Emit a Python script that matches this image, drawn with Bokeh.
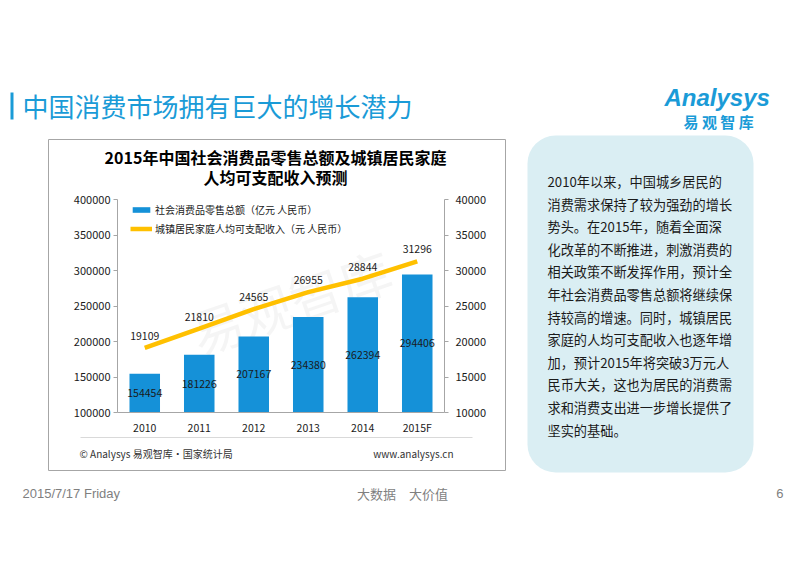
from bokeh.plotting import figure
from bokeh.layouts import column
from bokeh.models import (Range1d, LinearAxis, FactorRange, Label, BoxAnnotation,
                          Legend, LegendItem, FixedTicker, ColumnDataSource,
                          NumeralTickFormatter)
from bokeh.core.properties import value
from bokeh.embed import file_html
from bokeh.resources import INLINE

# ---------------- data ----------------
years = ["2010", "2011", "2012", "2013", "2014", "2015F"]
retail_sales = [154454, 181226, 207167, 234380, 262394, 294406]      # 亿元
disposable_income = [19109, 21810, 24565, 26955, 28844, 31296]        # 元
left_ticks = [100000, 150000, 200000, 250000, 300000, 350000, 400000]
right_ticks = [10000, 15000, 20000, 25000, 30000, 35000, 40000]
series_names = ["社会消费品零售总额（亿元 人民币）",
                "城镇居民家庭人均可支配收入（元 人民币）"]

slide_title = "中国消费市场拥有巨大的增长潜力"
chart_title_lines = ["2015年中国社会消费品零售总额及城镇居民家庭", "人均可支配收入预测"]
source_note = "© Analysys 易观智库·国家统计局"
site_note = "www.analysys.cn"
logo_en = "Analysys"
logo_cn = "易 观 智 库"
watermark = "易观智库"
commentary_lines = [
    "2010年以来，中国城乡居民的",
    "消费需求保持了较为强劲的增长",
    "势头。在2015年，随着全面深",
    "化改革的不断推进，刺激消费的",
    "相关政策不断发挥作用，预计全",
    "年社会消费品零售总额将继续保",
    "持较高的增速。同时，城镇居民",
    "家庭的人均可支配收入也逐年增",
    "加，预计2015年将突破3万元人",
    "民币大关，这也为居民的消费需",
    "求和消费支出进一步增长提供了",
    "坚实的基础。",
]
footer_date = "2015/7/17 Friday"
footer_motto = "大数据　大价值"
page_number = "6"

# ---------------- styling / layout ----------------
W, H = 786, 551
FL, FR, FT, FB = 117, 444, 199, 412   # chart plot frame in slide pixels
BLUE = "#1591D8"
TITLE_BLUE = "#1A9BD7"
GOLD = "#FFC000"
AXIS_GRAY = "#A6A6A6"
CJK = "Noto Sans CJK SC"

y_min, y_max = left_ticks[0], left_ticks[-1]
r_min, r_max = right_ticks[0], right_ticks[-1]

# ================= background slide (pixel coordinates) =================
bg = figure(width=W, height=H, x_range=Range1d(0, W), y_range=Range1d(H, 0),
            output_backend="svg", toolbar_location=None, min_border=0,
            x_axis_type=None, y_axis_type=None)
bg.frame_align = False
bg.title.visible = False
bg.grid.visible = False
bg.outline_line_color = None
bg.background_fill_color = "white"
bg.border_fill_color = "white"

def label(x, y, text, size, color="#000000", align="left", font=CJK,
          style="normal", angle=0, alpha=1.0, baseline="middle"):
    bg.add_layout(Label(x=x, y=y, text=text,
                        text_font=font, text_font_size=f"{size}px", text_color=color,
                        text_align=align, text_baseline=baseline,
                        text_font_style=style, angle=angle, text_alpha=alpha))

def box(l, r, t, b, fill, line=None, radius=0):
    bg.add_layout(BoxAnnotation(left=l, right=r, top=t, bottom=b,
                                fill_color=fill, fill_alpha=1.0,
                                line_color=line if line else fill, line_width=1,
                                line_alpha=1.0 if line else 0.0,
                                border_radius=radius, level="annotation"))

box(48, 505, 139, 470, "white", line=AXIS_GRAY)          # chart frame box
box(527, 753, 135, 472, "#DAEEF3", radius=28)             # commentary box
box(10, 13, 92, 119, TITLE_BLUE)                          # title marker
box(80, 472, 436.5, 437.5, "#D9D9D9")                     # source separator

label(22, 105, slide_title, 26, TITLE_BLUE)
label(664, 97, logo_en, 24, TITLE_BLUE, font="Liberation Sans", style="bold italic")
label(683, 121, logo_cn, 15, TITLE_BLUE, style="bold")
label(275, 156, chart_title_lines[0], 16, "#000000", align="center", style="bold")
label(275, 176, chart_title_lines[1], 16, "#000000", align="center", style="bold")
label(290, 300, watermark, 52, "#7f7f7f", align="center", angle=0.33, alpha=0.08)
label(79, 453, source_note, 10, "#333333")
label(453, 453, site_note, 10, "#333333", align="right")
for i, t in enumerate(commentary_lines):
    label(547, 181 + i * 22.6, t, 13.2, "#1a1a1a")
label(22, 493, footer_date, 13, "#7f7f7f", font="Liberation Sans")
label(402, 493, footer_motto, 13, "#7f7f7f", align="center")
label(783, 493, page_number, 13, "#7f7f7f", font="Liberation Sans", align="right")

# ================= chart (overlaid, transparent) =================
src = ColumnDataSource(dict(
    year=years,
    retail=retail_sales,
    income=disposable_income,
    mid=[(y_min + v) / 2 for v in retail_sales],
    retail_txt=[str(v) for v in retail_sales],
    income_txt=[str(v) for v in disposable_income],
))

p = figure(width=W, height=H, x_range=FactorRange(*years),
           y_range=Range1d(y_min, y_max),
           output_backend="svg", toolbar_location=None,
           min_border_left=FL, min_border_right=W - FR,
           min_border_top=FT, min_border_bottom=H - FB)
p.frame_align = False
p.margin = (-H, 0, 0, 0)
p.title.visible = False
p.extra_y_ranges["right"] = Range1d(r_min, r_max)
p.xgrid.grid_line_color = None
p.ygrid.grid_line_color = None
p.outline_line_color = None
p.background_fill_color = None
p.border_fill_color = None

bars = p.vbar(x="year", top="retail", bottom=y_min, width=0.56, source=src,
              fill_color=BLUE, line_color=None)
line = p.line(x="year", y="income", source=src, y_range_name="right",
              line_color=GOLD, line_width=4.5)

p.text(x="year", y="mid", text="retail_txt", source=src,
       text_align="center", text_baseline="middle",
       text_font=value(CJK), text_font_size="10.5px", text_color="#1a1a1a")
p.text(x="year", y="income", text="income_txt", source=src, y_range_name="right",
       text_align="center", text_baseline="bottom", y_offset=-8,
       text_font=value(CJK), text_font_size="10.5px", text_color="#1a1a1a")

def style_axis(ax, ticks=None, tick_out=4, standoff=3, size="11px"):
    if ticks is not None:
        ax.ticker = FixedTicker(ticks=ticks)
        ax.formatter = NumeralTickFormatter(format="0")
    ax.axis_line_color = AXIS_GRAY
    ax.major_tick_line_color = AXIS_GRAY
    ax.major_tick_out = tick_out
    ax.major_tick_in = 0
    ax.minor_tick_line_color = None
    ax.major_label_text_font = CJK
    ax.major_label_text_font_size = size
    ax.major_label_text_color = "#1a1a1a"
    ax.major_label_standoff = standoff

style_axis(p.yaxis[0], left_ticks, 4, 3)
right_axis = LinearAxis(y_range_name="right")
style_axis(right_axis, right_ticks, 4, 7)
p.add_layout(right_axis, "right")
style_axis(p.xaxis[0], None, 0, 7, "10.5px")

legend = Legend(items=[LegendItem(label=series_names[0], renderers=[bars]),
                       LegendItem(label=series_names[1], renderers=[line])],
                location=(13, 176), glyph_width=22, glyph_height=7,
                label_height=14, label_standoff=3, spacing=4, padding=0, margin=0,
                border_line_color=None, background_fill_alpha=0,
                label_text_font=CJK, label_text_font_size="10px",
                label_text_color="#1a1a1a")
p.add_layout(legend)

page = column(bg, p, spacing=0)
open("out.html", "w").write(file_html(page, INLINE))
